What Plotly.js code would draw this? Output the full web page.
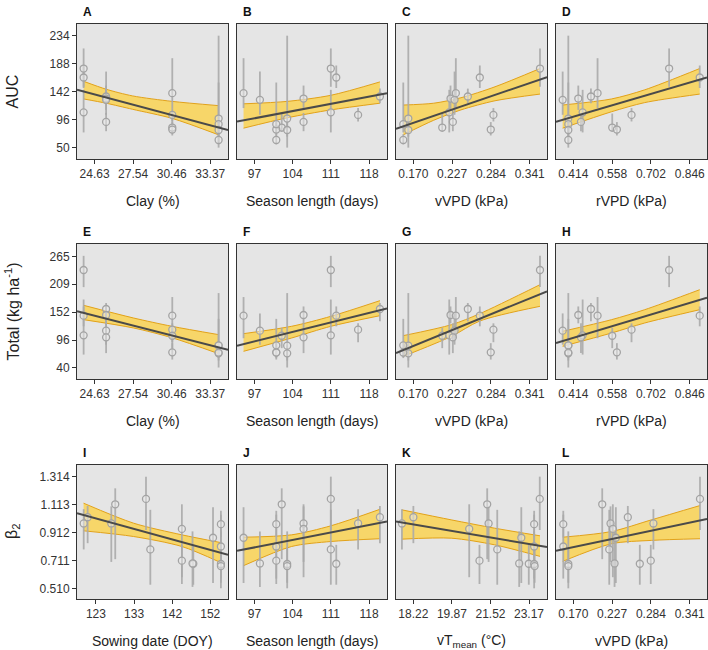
<!DOCTYPE html>
<html><head><meta charset="utf-8">
<script src="https://cdn.plot.ly/plotly-3.0.1.min.js"></script>
<style>html,body{margin:0;padding:0;background:#fff}</style>
</head><body><div id="chart" style="width:708px;height:650px"></div>
<script>
// ---- predictor values per site-year (15 site-years) ----
const clay = [23.8,23.8,23.8,25.5,25.5,25.5,25.5,30.5,30.5,30.5,30.5,34.0,34.0,34.0,34.0];
const seasonLength = [111,112,111,120,106,98,106,95,116,102,101,103,101,103,101];
const vVPD = [0.3561,0.2677,0.2228,0.2501,0.2247,0.2306,0.2281,0.2325,0.2877,0.2125,0.2838,0.1627,0.1553,0.1627,0.1553];
const rVPD = [0.7695,0.883,0.4486,0.4794,0.4325,0.3745,0.4424,0.504,0.63,0.5584,0.5757,0.3955,0.3955,0.3955,0.3955];
const sowingDOY = [135.7,147.7,136.8,120.9,126.9,147.5,144.8,152.7,119.9,127.9,144.8,154.7,154.7,154.7,154.7];
const vTmean = [23.63,23.16,21.81,18.22,21.44,22.75,20.61,22.84,17.73,21.38,21.05,23.39,23.39,23.41,23.39];

// ---- responses with error-bar limits ----
const auc   = [180,165.3,108,134,130.7,128.5,92.3,139.5,103.8,83,79.7,97.8,88.5,79,62.6];
const aucLo = [150,148,75,123,112,104,77,115,93,76,70,50,75,68,55];
const aucHi = [213,185,145,147,152,175,107,197,115,106,92,234,157,92,72];
const total   = [237.5,145.4,105.8,158.9,146.8,115.2,101.8,145.4,117.2,105,71.6,85,85.7,69.5,71];
const totalLo = [203,124,67,134,130,87,70,100,92,80,57,41,62,55,60];
const totalHi = [266,164,178,171,164,150,130,183,130,121,90,191,139,85,82];
const beta2   = [1.154,0.687,0.790,1.022,0.977,0.689,0.938,0.874,0.977,1.115,0.709,0.685,0.972,0.670,0.811];
const beta2Lo = [0.93,0.536,0.536,0.835,0.70,0.52,0.59,0.548,0.79,0.72,0.541,0.51,0.88,0.55,0.58];
const beta2Hi = [1.314,0.823,1.075,1.103,1.10,0.92,1.115,1.094,1.08,1.23,0.823,0.92,1.068,0.80,1.04];

// ---- fitted lines (ends) and confidence bands ----
const lineX_A=[23.3,34.71], lineY_A=[145,79.1];
const bandX_A=[23.8,25.5,27.5,30.5,34.0], bandUp_A=[159,146,135,126,119], bandLo_A=[130,123,113,98,71];
const lineX_B=[93.8,121.3], lineY_B=[92.8,139.5];
const bandX_B=[95,103,111,120], bandUp_B=[122,126,136,158], bandLo_B=[82,99,112,123];
const lineX_C=[0.1446,0.3664], lineY_C=[80.8,165.9];
const bandX_C=[0.1553,0.20,0.24,0.29,0.3561], bandUp_C=[120,123,132,150,180], bandLo_C=[71,95,112,127,138];
const lineX_D=[0.3498,0.910], lineY_D=[92.3,165.3];
const bandX_D=[0.3745,0.556,0.679,0.883], bandUp_D=[120,130,145,180], bandLo_D=[82,109,124,138];
const lineX_E=[23.3,34.71], lineY_E=[154.2,76.9];
const bandX_E=[23.8,27.58,30.47,34.0], bandUp_E=[166.3,140.7,124,107.2], bandLo_E=[137.4,120.6,101,68.9];
const lineX_F=[93.8,121.3], lineY_F=[85,160.2];
const bandX_F=[95,103.8,111,120], bandUp_F=[109.2,124,144.1,175.7], bandLo_F=[73.6,100.4,124,145.4];
const lineX_G=[0.1446,0.3664], lineY_G=[70.2,194.5];
const bandX_G=[0.1553,0.2262,0.2677,0.3561], bandUp_G=[105.2,127.3,149.5,207.9], bandLo_G=[63.5,103.8,134.7,164.3];
const lineX_H=[0.3498,0.910], lineY_H=[90.4,181.7];
const bandX_H=[0.3745,0.556,0.679,0.883], bandUp_H=[113.9,137.4,157.5,197.8], bandLo_H=[83.7,110.5,130.7,157.5];
const lineX_I=[118.2,156.5], lineY_I=[1.051,0.752];
const bandX_I=[119.87,132.55,144.81,154.53], bandUp_I=[1.123,0.979,0.895,0.840], bandLo_I=[0.924,0.883,0.811,0.697];
const lineX_J=[93.8,121.3], lineY_J=[0.780,0.991];
const bandX_J=[95,103.8,111,120], bandUp_J=[0.878,0.895,0.960,1.079], bandLo_J=[0.673,0.811,0.847,0.867];
const lineX_K=[17.476,23.94], lineY_K=[0.991,0.807];
const bandX_K=[17.73,19.84,21.70,23.64], bandUp_K=[1.075,1.003,0.943,0.888], bandLo_K=[0.864,0.871,0.823,0.740];
const lineX_L=[0.1446,0.3664], lineY_L=[0.780,1.010];
const bandX_L=[0.1544,0.2262,0.2848,0.3561], bandUp_L=[0.878,0.919,1.003,1.106], bandLo_L=[0.704,0.831,0.855,0.867];

// ---- tick values / labels ----
const clayTicks=[24.63,27.54,30.46,33.37], clayLabels=['24.63','27.54','30.46','33.37'];
const seasonTicks=[97,104,111,118], seasonLabels=['97','104','111','118'];
const vvpdTicks=[0.170,0.227,0.284,0.341], vvpdLabels=['0.170','0.227','0.284','0.341'];
const rvpdTicks=[0.414,0.558,0.702,0.846], rvpdLabels=['0.414','0.558','0.702','0.846'];
const sowTicks=[123,132.67,142.33,152], sowLabels=['123','133','142','152'];
const vtTicks=[18.22,19.87,21.52,23.17], vtLabels=['18.22','19.87','21.52','23.17'];
const aucTicks=[50,96,142,188,234], aucLabels=['50','96','142','188','234'];
const totalTicks=[40,96.25,152.5,208.75,265], totalLabels=['40','96','152','209','265'];
const betaTicks=[0.510,0.711,0.912,1.113,1.314], betaLabels=['0.510','0.711','0.912','1.113','1.314'];

const xRangeClay=[23.3,34.71], xRangeSeason=[93.8,121.3], xRangeVVPD=[0.1446,0.3664],
      xRangeRVPD=[0.3498,0.910], xRangeSow=[118.2,156.5], xRangeVT=[17.476,23.94];
const yRangeAUC=[31.3,253.2], yRangeTotal=[17.8,289.9], yRangeBeta=[0.433,1.398];

const rows=[
 {y:auc, lo:aucLo, hi:aucHi, yr:yRangeAUC, tv:aucTicks, tt:aucLabels, title:'AUC'},
 {y:total, lo:totalLo, hi:totalHi, yr:yRangeTotal, tv:totalTicks, tt:totalLabels, title:'Total (kg ha<sup>-1</sup>)'},
 {y:beta2, lo:beta2Lo, hi:beta2Hi, yr:yRangeBeta, tv:betaTicks, tt:betaLabels, title:'β<sub>2</sub>'}
];
const panels=[
 {r:0,c:0,L:'A',x:clay,xr:xRangeClay,tv:clayTicks,tt:clayLabels,xt:'Clay (%)',lx:lineX_A,ly:lineY_A,bx:bandX_A,bu:bandUp_A,bl:bandLo_A},
 {r:0,c:1,L:'B',x:seasonLength,xr:xRangeSeason,tv:seasonTicks,tt:seasonLabels,xt:'Season length (days)',lx:lineX_B,ly:lineY_B,bx:bandX_B,bu:bandUp_B,bl:bandLo_B},
 {r:0,c:2,L:'C',x:vVPD,xr:xRangeVVPD,tv:vvpdTicks,tt:vvpdLabels,xt:'vVPD (kPa)',lx:lineX_C,ly:lineY_C,bx:bandX_C,bu:bandUp_C,bl:bandLo_C},
 {r:0,c:3,L:'D',x:rVPD,xr:xRangeRVPD,tv:rvpdTicks,tt:rvpdLabels,xt:'rVPD (kPa)',lx:lineX_D,ly:lineY_D,bx:bandX_D,bu:bandUp_D,bl:bandLo_D},
 {r:1,c:0,L:'E',x:clay,xr:xRangeClay,tv:clayTicks,tt:clayLabels,xt:'Clay (%)',lx:lineX_E,ly:lineY_E,bx:bandX_E,bu:bandUp_E,bl:bandLo_E},
 {r:1,c:1,L:'F',x:seasonLength,xr:xRangeSeason,tv:seasonTicks,tt:seasonLabels,xt:'Season length (days)',lx:lineX_F,ly:lineY_F,bx:bandX_F,bu:bandUp_F,bl:bandLo_F},
 {r:1,c:2,L:'G',x:vVPD,xr:xRangeVVPD,tv:vvpdTicks,tt:vvpdLabels,xt:'vVPD (kPa)',lx:lineX_G,ly:lineY_G,bx:bandX_G,bu:bandUp_G,bl:bandLo_G},
 {r:1,c:3,L:'H',x:rVPD,xr:xRangeRVPD,tv:rvpdTicks,tt:rvpdLabels,xt:'rVPD (kPa)',lx:lineX_H,ly:lineY_H,bx:bandX_H,bu:bandUp_H,bl:bandLo_H},
 {r:2,c:0,L:'I',x:sowingDOY,xr:xRangeSow,tv:sowTicks,tt:sowLabels,xt:'Sowing date (DOY)',lx:lineX_I,ly:lineY_I,bx:bandX_I,bu:bandUp_I,bl:bandLo_I},
 {r:2,c:1,L:'J',x:seasonLength,xr:xRangeSeason,tv:seasonTicks,tt:seasonLabels,xt:'Season length (days)',lx:lineX_J,ly:lineY_J,bx:bandX_J,bu:bandUp_J,bl:bandLo_J},
 {r:2,c:2,L:'K',x:vTmean,xr:xRangeVT,tv:vtTicks,tt:vtLabels,xt:'vT<sub>mean</sub> (°C)',lx:lineX_K,ly:lineY_K,bx:bandX_K,bu:bandUp_K,bl:bandLo_K},
 {r:2,c:3,L:'L',x:vVPD,xr:xRangeVVPD,tv:vvpdTicks,tt:vvpdLabels,xt:'vVPD (kPa)',lx:lineX_L,ly:lineY_L,bx:bandX_L,bu:bandUp_L,bl:bandLo_L}
];

const W=708,H=650;
const colPx=[[77,228],[237,387],[396,547],[556,707]];
const rowPx=[[24,159],[244,379],[465,599]];
const FONT='"Liberation Sans", Arial, sans-serif';
const AX='#333';

const traces=[]; const layout={width:W,height:H,margin:{l:0,r:0,t:0,b:0},
  paper_bgcolor:'#fff',plot_bgcolor:'#e5e5e5',showlegend:false,font:{family:FONT,color:'#222'},annotations:[]};

panels.forEach((p,k)=>{
  const n=k+1, xa='x'+(k?n:''), ya='y'+(k?n:'');
  const row=rows[p.r];
  const [c0,c1]=colPx[p.c], [r0,r1]=rowPx[p.r];
  layout['xaxis'+(k?n:'')]={domain:[c0/W,c1/W],range:p.xr,anchor:ya,tickvals:p.tv,ticktext:p.tt,
    ticks:'outside',ticklen:4,tickwidth:1,tickcolor:AX,showline:true,mirror:true,linecolor:AX,linewidth:1,
    showgrid:false,zeroline:false,tickfont:{family:FONT,size:12,color:'#333'},fixedrange:true};
  layout['yaxis'+(k?n:'')]={domain:[1-r1/H,1-r0/H],range:row.yr,anchor:xa,tickvals:row.tv,ticktext:row.tt,
    ticks:p.c===0?'outside':'',ticklen:4,tickwidth:1,tickcolor:AX,showticklabels:p.c===0,
    showline:true,mirror:true,linecolor:AX,linewidth:1,showgrid:false,zeroline:false,
    tickfont:{family:FONT,size:12,color:'#333'},fixedrange:true};
  // band
  traces.push({type:'scatter',mode:'lines',x:p.bx,y:p.bl,xaxis:xa,yaxis:ya,
    line:{color:'#e2a21a',width:1,shape:'spline',smoothing:0.8},hoverinfo:'skip'});
  traces.push({type:'scatter',mode:'lines',x:p.bx,y:p.bu,xaxis:xa,yaxis:ya,fill:'tonexty',
    fillcolor:'rgba(255,206,45,0.68)',line:{color:'#e2a21a',width:1,shape:'spline',smoothing:0.8},hoverinfo:'skip'});
  // points with error bars
  traces.push({type:'scatter',mode:'markers',x:p.x,y:row.y,xaxis:xa,yaxis:ya,
    error_y:{type:'data',symmetric:false,array:row.hi.map((h,i)=>h-row.y[i]),arrayminus:row.lo.map((l,i)=>row.y[i]-l),
      color:'rgba(170,170,170,0.9)',thickness:1.8,width:0},
    marker:{symbol:'circle',size:7,color:'rgba(235,235,235,0.5)',line:{color:'#a3a3a3',width:1.3}},hoverinfo:'skip'});
  // regression line
  traces.push({type:'scatter',mode:'lines',x:p.lx,y:p.ly,xaxis:xa,yaxis:ya,
    line:{color:'#4a4a4a',width:2},hoverinfo:'skip'});
  // panel letter
  layout.annotations.push({xref:'paper',yref:'paper',x:(c0+4)/W,y:1-(r0-12)/H,xanchor:'left',yanchor:'middle',
    text:'<b>'+p.L+'</b>',showarrow:false,font:{family:FONT,size:12,color:'#111'}});
  // x title
  layout.annotations.push({xref:'paper',yref:'paper',x:((c0+c1)/2)/W,y:1-(r1+42)/H,xanchor:'center',yanchor:'middle',
    text:p.xt,showarrow:false,font:{family:FONT,size:14,color:'#222'}});
});
rows.forEach((row,i)=>{
  const [r0,r1]=rowPx[i];
  layout.annotations.push({xref:'paper',yref:'paper',x:12/W,y:1-((r0+r1)/2)/H,xanchor:'center',yanchor:'middle',
    textangle:-90,text:row.title,showarrow:false,font:{family:FONT,size:16,color:'#222'}});
});
Plotly.newPlot('chart',traces,layout,{staticPlot:true,displayModeBar:false});
</script></body></html>
